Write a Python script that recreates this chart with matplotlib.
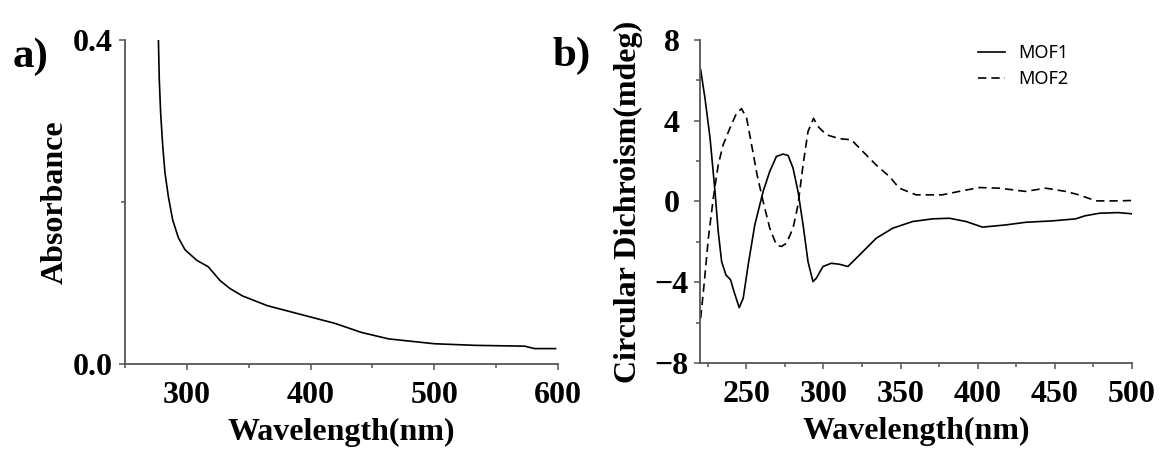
import numpy as np
import matplotlib.pyplot as plt
from matplotlib.ticker import MultipleLocator

# panel a) absorbance spectrum
wl_abs = [277, 277.7, 278.8, 280.5, 282.3, 285, 288.5, 293.1, 298.5, 308,
          317.3, 326.8, 335, 345, 365, 380, 400, 420, 441, 463, 500, 533,
          573, 581, 598]
absorb = [0.400, 0.351, 0.310, 0.269, 0.236, 0.207, 0.178, 0.156, 0.141,
          0.128, 0.120, 0.103, 0.093, 0.084, 0.072, 0.066, 0.058, 0.050,
          0.039, 0.031, 0.025, 0.023, 0.022, 0.019, 0.019]

# panel b) circular dichroism
wl_mof1 = [220.4, 223.2, 226.5, 229.7, 231.8, 234, 236.8, 239.8, 242, 245.4,
           248, 251.2, 255.5, 260.9, 265.2, 269.5, 273.8, 277.1, 280.3, 283.5,
           286.8, 290, 293.2, 295.4, 299.7, 305.1, 310.4, 315.8, 323.4, 334.2,
           345, 357.9, 370.8, 381.6, 392.4, 403.1, 418.2, 431.1, 448.4, 463.5,
           469.5, 479, 491, 500]
cd_mof1 = [6.53, 5.12, 3.14, 0.50, -1.49, -2.98, -3.64, -3.88, -4.46, -5.26,
           -4.79, -3.14, -1.16, 0.50, 1.49, 2.23, 2.35, 2.28, 1.65, 0.50,
           -1.16, -2.98, -3.97, -3.80, -3.22, -3.06, -3.11, -3.22, -2.65,
           -1.82, -1.32, -0.99, -0.86, -0.83, -0.99, -1.27, -1.16, -1.03,
           -0.96, -0.86, -0.71, -0.58, -0.55, -0.61]

wl_mof2 = [220.4, 222.6, 225.4, 228.6, 231.8, 235, 239.4, 243.7, 246.9, 250.2,
           253.4, 257, 260.9, 265.2, 269.5, 272.8, 276, 280.3, 283.5, 286.8,
           290, 293.6, 296.4, 301.8, 310.4, 318, 325.5, 334, 342.7, 349.2, 360,
           377, 388, 401, 414, 431, 444, 457, 465.5, 476.7, 491, 500]
cd_mof2 = [-5.79, -4.13, -1.82, 0.17, 1.82, 2.81, 3.64, 4.38, 4.60, 4.13,
           2.81, 1.32, 0.0, -1.32, -2.15, -2.23, -2.07, -1.32, -0.17, 1.82,
           3.47, 4.12, 3.72, 3.31, 3.11, 3.06, 2.48, 1.82, 1.24, 0.66, 0.33,
           0.33, 0.50, 0.69, 0.66, 0.50, 0.66, 0.50, 0.33, 0.03, 0.03, 0.05]

plt.rcParams['font.family'] = ['Liberation Serif', 'DejaVu Serif']
plt.rcParams['font.weight'] = 'bold'

fig = plt.figure(figsize=(11.64, 4.53), dpi=100)
ax1 = fig.add_axes([0.1074, 0.1965, 0.372, 0.7152])
ax2 = fig.add_axes([0.6014, 0.1987, 0.3711, 0.713])

spine_col = '#555555'
fs = 23
for ax in (ax1, ax2):
    for s in ('top', 'right'):
        ax.spines[s].set_visible(False)
    for s in ('left', 'bottom'):
        ax.spines[s].set_linewidth(1.3)
        ax.spines[s].set_color(spine_col)
    ax.tick_params(which='both', direction='out', width=1.1,
                   colors=spine_col, labelcolor='black', labelsize=fs)
    ax.tick_params(which='major', length=4)
    ax.tick_params(which='minor', length=3)
    ax.tick_params(axis='x', pad=8)

# a)
ax1.plot(wl_abs, absorb, color='black', lw=1.2)
ax1.set_xlim(250, 600)
ax1.set_ylim(0, 0.4)
ax1.set_xticks([300, 400, 500, 600])
ax1.xaxis.set_minor_locator(MultipleLocator(50))
ax1.set_yticks([0.0, 0.4])
ax1.set_yticklabels(['0.0', '0.4'])
ax1.yaxis.set_minor_locator(MultipleLocator(0.2))
ax1.tick_params(axis='y', pad=4.5)
ax1.set_xlabel('Wavelength(nm)', fontsize=fs, fontweight='bold')
ax1.set_ylabel('Absorbance', fontsize=fs, fontweight='bold')
ax1.xaxis.set_label_coords(0.5, -0.21)
ax1.xaxis.label.set_va('center')
ax1.yaxis.set_label_coords(-0.16, 0.5)
ax1.yaxis.label.set_va('center')

# b)
ax2.plot(wl_mof1, cd_mof1, color='black', lw=1.2, label='MOF1')
ax2.plot(wl_mof2, cd_mof2, color='black', lw=1.2, dashes=(5, 3), label='MOF2')
ax2.set_xlim(220, 500)
ax2.set_ylim(-8, 8)
ax2.set_xticks([250, 300, 350, 400, 450, 500])
ax2.set_xticks(np.arange(225, 500, 25), minor=True)
ax2.set_yticks([-8, -4, 0, 4, 8])
ax2.yaxis.set_minor_locator(MultipleLocator(2))
ax2.tick_params(axis='y', pad=16.5)
for lab in ax2.get_yticklabels():
    lab.set_horizontalalignment('center')
ax2.set_xlabel('Wavelength(nm)', fontsize=fs, fontweight='bold')
ax2.set_ylabel('Circular Dichroism(mdeg)', fontsize=fs, fontweight='bold')
ax2.xaxis.set_label_coords(0.5, -0.213)
ax2.xaxis.label.set_va('center')
ax2.yaxis.set_label_coords(-0.165, 0.5)
ax2.yaxis.label.set_va('center')
ax2.legend(loc='upper left', bbox_to_anchor=(978 / 1164, 1 - 44 / 453),
           bbox_transform=fig.transFigure, frameon=False, borderpad=0,
           borderaxespad=0, handlelength=1.5, handletextpad=0.75,
           labelspacing=0.45,
           prop={'family': 'Noto Sans', 'size': 13, 'weight': 'normal'})

fig.text(0.011, 0.874, 'a)', fontsize=31, fontweight='bold', va='center')
fig.text(0.475, 0.878, 'b)', fontsize=31, fontweight='bold', va='center')

fig.savefig('out.png', dpi=100, facecolor='white')
